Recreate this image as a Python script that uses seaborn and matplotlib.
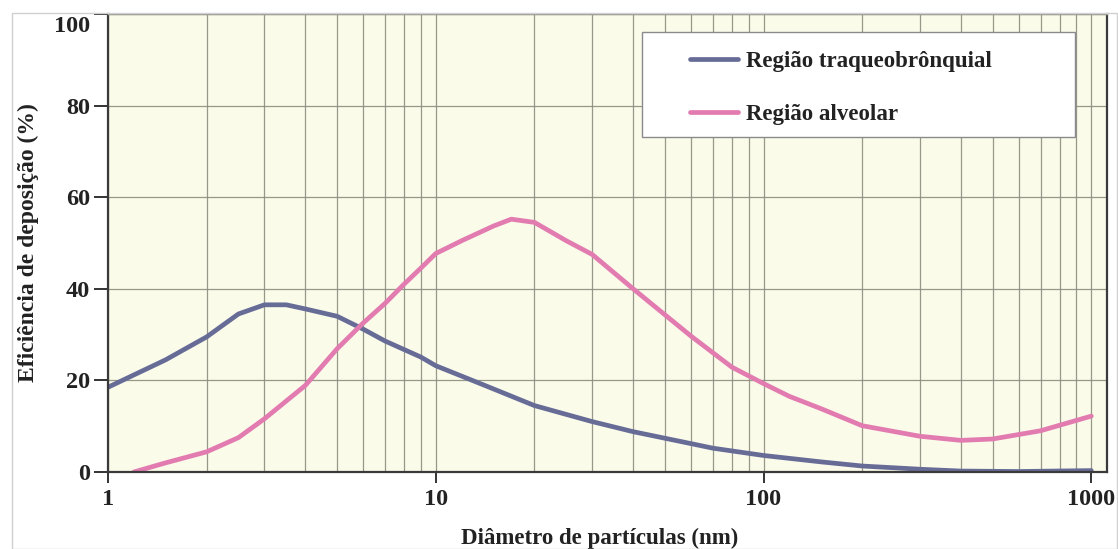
import numpy as np
import pandas as pd
import matplotlib
matplotlib.use("Agg")
import matplotlib.pyplot as plt
import matplotlib.transforms as mtransforms
from matplotlib.patches import Rectangle
from matplotlib.ticker import FixedLocator, NullFormatter, LogLocator
import seaborn as sns

# Deposition efficiency curves vs particle diameter
diam_tb = [1, 1.5, 2, 2.5, 3, 3.5, 4, 5, 6, 7, 9, 10, 14, 20, 30, 40, 60, 70,
           100, 150, 200, 300, 400, 600, 1000]
eff_tb = [18.5, 24.5, 29.5, 34.5, 36.5, 36.5, 35.6, 34, 31.2, 28.6, 25.1, 23.2,
          19, 14.5, 11, 8.8, 6.2, 5.2, 3.6, 2.2, 1.3, 0.6, 0.2, 0.1, 0.3]

diam_alv = [1.2, 1.5, 2, 2.5, 3, 4, 5, 6, 7, 8, 9, 10, 12, 15, 17, 20, 25, 30,
            40, 60, 80, 90, 100, 120, 150, 200, 300, 400, 500, 700, 1000]
eff_alv = [0, 2, 4.4, 7.5, 11.6, 18.9, 26.9, 32.5, 36.8, 41, 44.5, 47.7, 50.5,
           53.7, 55.2, 54.5, 50.5, 47.5, 40, 29.7, 22.9, 21, 19.3, 16.5, 13.8,
           10.1, 7.8, 6.9, 7.2, 9, 12.2]

series_names = ["Região traqueobrônquial", "Região alveolar"]
series_colors = ["#676c97", "#e27bb0"]
x_ticks = [1, 10, 100, 1000]
y_ticks = [0, 20, 40, 60, 80, 100]

df = pd.concat([
    pd.DataFrame({"d": diam_tb, "eff": eff_tb, "regiao": series_names[0]}),
    pd.DataFrame({"d": diam_alv, "eff": eff_alv, "regiao": series_names[1]}),
])

sns.set_theme(style="white")
plt.rcParams["font.family"] = ["Liberation Serif", "DejaVu Serif"]
plt.rcParams["font.weight"] = "bold"

fig = plt.figure(figsize=(11.18, 5.49), dpi=100)
ax = fig.add_axes([0.0966, 0.1403, 0.8934, 0.8342])
ax.set_facecolor("#fbfbea")

sns.lineplot(data=df, x="d", y="eff", hue="regiao", hue_order=series_names,
             palette=series_colors, linewidth=3.4, ax=ax, legend=False,
             sort=False, estimator=None)

ax.set_xscale("log")
ax.set_xlim(1, 1115)
ax.set_ylim(0, 100)

ax.xaxis.set_major_locator(FixedLocator(x_ticks))
ax.set_xticklabels([str(v) for v in x_ticks])
ax.xaxis.set_minor_locator(LogLocator(base=10, subs=np.arange(2, 10)))
ax.xaxis.set_minor_formatter(NullFormatter())
ax.set_yticks(y_ticks)
ax.set_yticklabels([str(v) for v in y_ticks])

grid_kw = dict(color="#8c8c80", linewidth=0.9, alpha=0.9)
ax.grid(True, which="both", axis="x", **grid_kw)
ax.grid(True, which="major", axis="y", **grid_kw)

ax.tick_params(axis="both", which="major", direction="out", width=1.4,
               color="#333333", labelsize=17.5, bottom=True, left=True)
ax.tick_params(axis="x", which="major", length=8, pad=4)
ax.tick_params(axis="y", which="major", length=10, pad=3)
ax.tick_params(axis="x", which="minor", length=0)
for lbl in ax.get_xticklabels() + ax.get_yticklabels():
    lbl.set_fontweight("bold")
    lbl.set_color("#222222")

# top label sits a little below the top edge
top_lbl = ax.get_yticklabels()[-1]
top_lbl.set_transform(top_lbl.get_transform() +
                      mtransforms.ScaledTranslation(0, -10 / 100, fig.dpi_scale_trans))

for side in ["left", "bottom", "right"]:
    ax.spines[side].set_color("#3a3a3a")
    ax.spines[side].set_linewidth(1.6)
ax.spines["top"].set_color("#9a9a90")
ax.spines["top"].set_linewidth(1.0)

ax.set_xlabel("Diâmetro de partículas (nm)", fontsize=16.5, fontweight="bold",
              color="#222222")
ax.set_ylabel("Eficiência de deposição (%)", fontsize=17, fontweight="bold",
              color="#222222")
ax.xaxis.set_label_coords(0.4925, -0.122)
ax.yaxis.set_label_coords(-0.069, 0.5)

# Legend box
ax.add_patch(Rectangle((0.535, 0.731), 0.433, 0.23, transform=ax.transAxes,
                       facecolor="white", edgecolor="#8a8a8a", linewidth=1.0,
                       zorder=5))
handles = [plt.Line2D([], [], color=c, linewidth=3.4) for c in series_colors]
leg = ax.legend(handles, series_names, loc="upper left",
                bbox_to_anchor=(0.5616, 0.965), frameon=False,
                handlelength=2.1, handletextpad=0.35, labelspacing=1.42,
                prop={"weight": "bold", "size": 16.5})
leg.set_zorder(6)
for t in leg.get_texts():
    t.set_color("#222222")

# Thin outer frame
fig.add_artist(Rectangle((0.011, 0.0), 0.988, 0.976, transform=fig.transFigure,
                         fill=False, edgecolor="#d0d0d0", linewidth=1.0))

fig.savefig("out.png", dpi=100)
